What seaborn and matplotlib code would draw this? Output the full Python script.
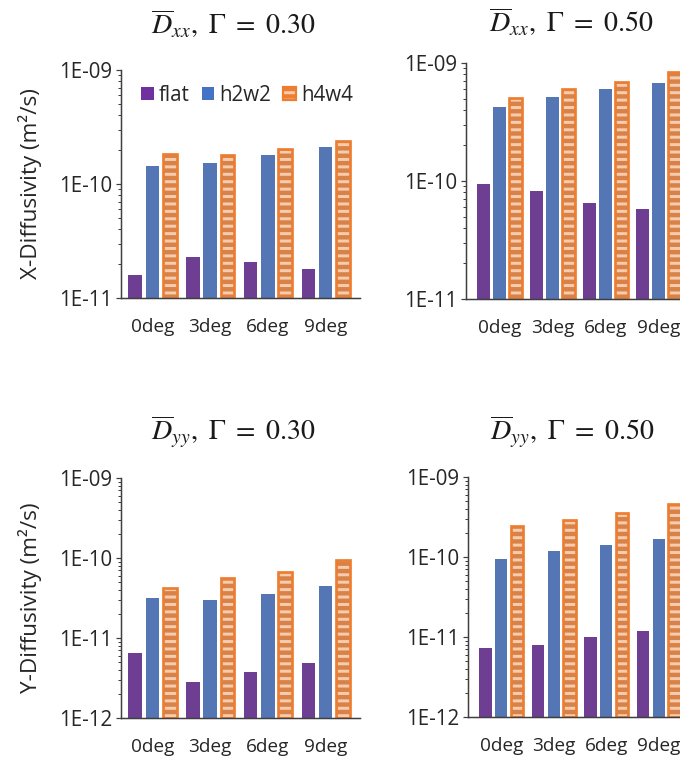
import numpy as np
import pandas as pd
import matplotlib
matplotlib.use("Agg")
import matplotlib.pyplot as plt
from matplotlib.patches import Patch, Rectangle
from matplotlib.ticker import LogLocator, FixedLocator, FixedFormatter, NullFormatter
from matplotlib.legend_handler import HandlerTuple
import seaborn as sns

# ---- data -------------------------------------------------------------
angles = ["0deg", "3deg", "6deg", "9deg"]
series = ["flat", "h2w2", "h4w4"]

# mean x-diffusivity, Gamma = 0.30 (m^2/s)
dxx_030_flat = [1.58e-11, 2.27e-11, 2.07e-11, 1.78e-11]
dxx_030_h2w2 = [1.43e-10, 1.53e-10, 1.79e-10, 2.13e-10]
dxx_030_h4w4 = [1.82e-10, 1.81e-10, 2.02e-10, 2.37e-10]

# mean x-diffusivity, Gamma = 0.50
dxx_050_flat = [9.5e-11, 8.3e-11, 6.46e-11, 5.79e-11]
dxx_050_h2w2 = [4.24e-10, 5.15e-10, 5.97e-10, 6.81e-10]
dxx_050_h4w4 = [5.10e-10, 6.05e-10, 6.85e-10, 8.40e-10]

# mean y-diffusivity, Gamma = 0.30
dyy_030_flat = [6.5e-12, 2.85e-12, 3.8e-12, 4.92e-12]
dyy_030_h2w2 = [3.13e-11, 2.96e-11, 3.55e-11, 4.51e-11]
dyy_030_h4w4 = [4.22e-11, 5.62e-11, 6.68e-11, 9.35e-11]

# mean y-diffusivity, Gamma = 0.50
dyy_050_flat = [7.3e-12, 8.0e-12, 9.9e-12, 1.18e-11]
dyy_050_h2w2 = [9.35e-11, 1.18e-10, 1.43e-10, 1.68e-10]
dyy_050_h4w4 = [2.44e-10, 2.93e-10, 3.55e-10, 4.60e-10]

yticks_x = [1e-11, 1e-10, 1e-9]
ylabels_x = ["1E-11", "1E-10", "1E-09"]
yticks_y = [1e-12, 1e-11, 1e-10, 1e-9]
ylabels_y = ["1E-12", "1E-11", "1E-10", "1E-09"]

titles = [r"$\overline{D}_{x x},\ \Gamma\ =\ 0.30$",
          r"$\overline{D}_{x x},\ \Gamma\ =\ 0.50$",
          r"$\overline{D}_{y y},\ \Gamma\ =\ 0.30$",
          r"$\overline{D}_{y y},\ \Gamma\ =\ 0.50$"]
ylabel_x = "X-Diffusivity (m\u00b2/s)"
ylabel_y = "Y-Diffusivity (m\u00b2/s)"

# ---- style --------------------------------------------------------------
DPI = 89
W, H = 680, 761
PT = 72.0 / DPI          # points per pixel

PURPLE = "#7030A0"
BLUE = "#4472C4"
ORANGE = "#ED7D31"
PEACH = "#F8CBAD"
AXIS = "#3F3F3F"
TEXT = "#262626"

sns.set_theme(style="white")
plt.rcParams["font.family"] = ["Open Sans", "DejaVu Sans"]
plt.rcParams["mathtext.fontset"] = "stix"
plt.rcParams["hatch.linewidth"] = 3.0 * PT
plt.rcParams["text.color"] = TEXT

YTICK_PX = 20.5
XTICK_PX = 19.0
fig = plt.figure(figsize=(W / DPI, H / DPI), dpi=DPI)
fig.patch.set_facecolor("white")


def axes_px(left, right, top, bottom):
    return fig.add_axes([left / W, 1 - bottom / H, (right - left) / W, (bottom - top) / H])


def draw_panel(ax, flat, h2w2, h4w4, yticks, ylabels, title, title_pad_px,
               xlim, ylabel=None):
    df = pd.DataFrame({
        "angle": angles * 3,
        "series": np.repeat(series, len(angles)),
        "value": list(flat) + list(h2w2) + list(h4w4),
    })
    ax.set_yscale("log")
    sns.barplot(data=df, x="angle", y="value", hue="series", hue_order=series,
                palette=[PURPLE, BLUE, ORANGE], width=0.9, gap=0.22,
                errorbar=None, linewidth=0, legend=False, ax=ax, zorder=1)
    ylo, yhi = yticks[0], yticks[-1]
    ax.set_ylim(ylo, yhi)
    ax.set_xlim(*xlim)

    # hatched pattern and outline on the h4w4 bars
    for bar in ax.containers[2]:
        x, w, top = bar.get_x(), bar.get_width(), bar.get_y() + bar.get_height()
        ax.add_patch(Rectangle((x, ylo), w, top - ylo, facecolor="none",
                               edgecolor=PEACH, linewidth=0, hatch="--", zorder=1.1))
        ax.add_patch(Rectangle((x, ylo), w, top - ylo, facecolor="none",
                               edgecolor=ORANGE, linewidth=2.7 * PT, zorder=1.2))

    ax.yaxis.set_major_locator(FixedLocator(yticks))
    ax.yaxis.set_major_formatter(FixedFormatter(ylabels))
    ax.yaxis.set_minor_locator(LogLocator(base=10, subs=np.arange(2, 10)))
    ax.yaxis.set_minor_formatter(NullFormatter())
    ax.tick_params(axis="y", which="major", direction="out", length=5 * PT,
                   width=1.2 * PT, color=AXIS, pad=4 * PT, labelsize=YTICK_PX * PT,
                   labelcolor=TEXT, left=True)
    ax.tick_params(axis="y", which="minor", direction="out", length=3 * PT,
                   width=1.0 * PT, color=AXIS, left=True)
    ax.tick_params(axis="x", length=0, pad=20 * PT, labelsize=XTICK_PX * PT,
                   labelcolor=TEXT)

    for side in ("top", "right"):
        ax.spines[side].set_visible(False)
    for side in ("left", "bottom"):
        ax.spines[side].set_color(AXIS)
        ax.spines[side].set_linewidth(1.5 * PT)
    ax.grid(False)
    ax.set_xlabel("")
    ax.set_ylabel(ylabel if ylabel else "", fontsize=22.5 * PT, labelpad=17 * PT,
                  color=TEXT)
    ax.set_title(title, fontsize=28 * PT, pad=title_pad_px * PT, color="#1a1a1a")
    ax.title.set_x(0.47)


xlim_left = (-0.546, 3.596)
xlim_right = (-0.632, 3.594)

ax_tl = axes_px(121, 360, 70, 298)
draw_panel(ax_tl, dxx_030_flat, dxx_030_h2w2, dxx_030_h4w4, yticks_x, ylabels_x,
           titles[0], 36, xlim_left, ylabel_x)

ax_tr = axes_px(466, 690, 63, 299)
draw_panel(ax_tr, dxx_050_flat, dxx_050_h2w2, dxx_050_h4w4, yticks_x, ylabels_x,
           titles[1], 31, xlim_right)

ax_bl = axes_px(121, 360, 478, 718)
draw_panel(ax_bl, dyy_030_flat, dyy_030_h2w2, dyy_030_h4w4, yticks_y, ylabels_y,
           titles[2], 38, xlim_left, ylabel_y)

ax_br = axes_px(468, 690, 477, 717)
draw_panel(ax_br, dyy_050_flat, dyy_050_h2w2, dyy_050_h4w4, yticks_y, ylabels_y,
           titles[3], 37, xlim_right)

# legend for the first panel
handles = [
    Patch(facecolor=PURPLE, linewidth=0),
    Patch(facecolor=BLUE, linewidth=0),
    (Patch(facecolor=ORANGE, edgecolor=PEACH, linewidth=0, hatch="--"),
     Patch(facecolor="none", edgecolor=ORANGE, linewidth=2.2 * PT)),
]
ax_tl.legend(handles, series, loc="center", bbox_to_anchor=(0.527, 0.89),
             ncol=3, frameon=False, fontsize=YTICK_PX * PT, handlelength=0.6,
             handleheight=0.6, handletextpad=0.25, columnspacing=0.6,
             handler_map={tuple: HandlerTuple(ndivide=1)})

fig.savefig("out.png", dpi=DPI, facecolor="white")
